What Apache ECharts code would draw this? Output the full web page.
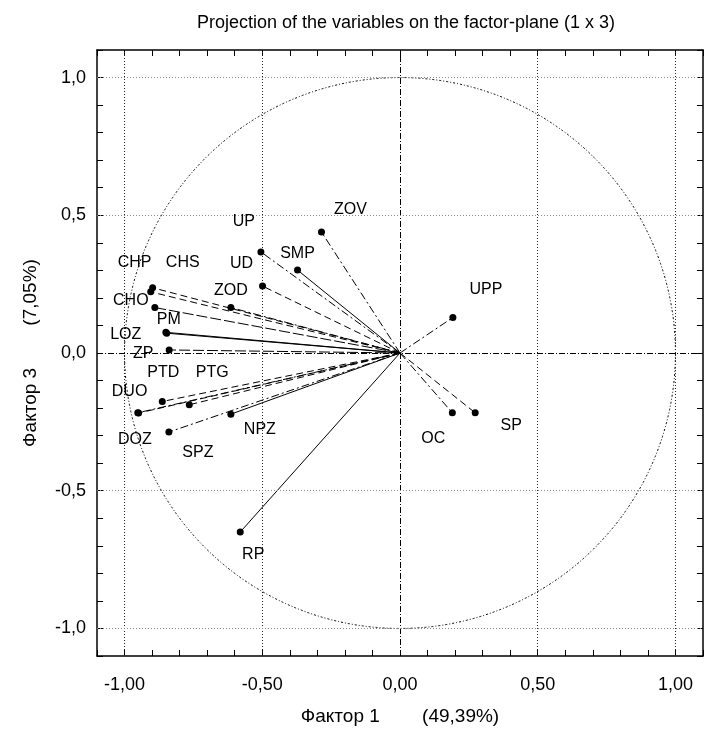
<!DOCTYPE html>
<html><head><meta charset="utf-8">
<script src="https://cdn.jsdelivr.net/npm/echarts@6/dist/echarts.min.js"></script>
<style>html,body{margin:0;padding:0;background:#fff}#c{width:706px;height:731px}</style>
</head><body><div id="c"></div>
<script>
// ---- DATA ----
const variables = ['ZOV','UP','SMP','UD','ZOD','CHP','CHS','CHO','PM','LOZ','ZP','PTD','PTG','DUO','DOZ','SPZ','NPZ','RP','UPP','OC','SP'];
const factor1 = [-0.285,-0.505,-0.372,-0.499,-0.614,-0.898,-0.905,-0.890,-0.850,-0.847,-0.838,-0.863,-0.765,-0.949,-0.952,-0.839,-0.614,-0.580,0.192,0.190,0.273];
const factor3 = [0.439,0.367,0.301,0.243,0.165,0.237,0.222,0.165,0.075,0.072,0.011,-0.176,-0.188,-0.218,-0.217,-0.287,-0.222,-0.650,0.129,-0.217,-0.217];
const xTicks = [-1, -0.5, 0, 0.5, 1];
const xTickLabels = ['-1,00','-0,50','0,00','0,50','1,00'];
const yTicks = [-1, -0.5, 0, 0.5, 1];
const yTickLabels = ['-1,0','-0,5','0,0','0,5','1,0'];

// ---- STYLE (label placement and line dash per variable) ----
const labelOffsets = {
  ZOV:[29,-22], UP:[-17,-30], SMP:[0,-16], UD:[-21,-22], ZOD:[0,-17],
  CHP:[-18,-25], CHS:[32,-29], CHO:[-24,-7], PM:[3,-13], LOZ:[-41,1], ZP:[-26,4],
  PTD:[1,-29], PTG:[23,-32], DUO:[-9,-21], DOZ:[-3,27], SPZ:[29,21], NPZ:[29,15],
  RP:[13,23], UPP:[33,-28], OC:[-19,26], SP:[36,13]
};
const DASH=[7,4], DASHDOT=[8,3,2,3], SOLID='solid', LONG=[11,3];
const rayStyle = {
  ZOV:DASHDOT, UP:DASHDOT, SMP:SOLID, UD:DASH, ZOD:DASHDOT,
  CHP:DASH, CHS:DASH, CHO:LONG, PM:SOLID, LOZ:SOLID, ZP:LONG,
  PTD:DASH, PTG:DASH, DUO:DASH, DOZ:DASHDOT, SPZ:DASHDOT, NPZ:SOLID,
  RP:SOLID, UPP:DASHDOT, OC:DASHDOT, SP:DASH
};

function fmt(ticks, labels){
  return function(v){
    for (let i=0;i<ticks.length;i++) if (Math.abs(v-ticks[i])<1e-6) return labels[i];
    return '';
  };
}
const FONT = 'Liberation Sans, Arial, sans-serif';
const chart = echarts.init(document.getElementById('c'));

const rays = variables.map((n,i)=>({
  type:'line', silent:true, symbol:'none', animation:false, z:3,
  data:[[0,0],[factor1[i],factor3[i]]],
  lineStyle:{color:'#000', width:1, type:rayStyle[n], opacity:1}
}));

rays[0].markLine = {
  silent:true, symbol:'none', animation:false, label:{show:false},
  data: xTicks.map(v=>({xAxis:v, lineStyle:{color: v===0?'#000':'#222', width:1, type: v===0?[6,2,1,2]:[1,2]}}))
    .concat(yTicks.map(v=>({yAxis:v, lineStyle:{color: v===0?'#000':'#888', width:1, type: v===0?[6,2,1,2]:[1,2]}})))
};

const axisCommon = {
  type:'value', min:-1.1, max:1.1, interval:0.1,
  axisLine:{show:true, onZero:false, lineStyle:{color:'#000', width:1.5}},
  axisTick:{show:true, inside:true, length:6, lineStyle:{color:'#000', width:1}},
  splitLine:{show:false}
};

const option = {
  animation:false,
  backgroundColor:'#fff',
  title:{text:'Projection of the variables on the factor-plane (1 x 3)', left:401, textAlign:'center', top:9,
    textStyle:{fontSize:18, fontWeight:'normal', color:'#000', fontFamily:FONT}},
  grid:{left:97, right:1, top:50, bottom:71, containLabel:false},
  xAxis:[
    Object.assign({}, axisCommon, {position:'bottom',
      axisLabel:{formatter:fmt(xTicks,xTickLabels), fontSize:18, color:'#000', margin:20, fontFamily:FONT},
      name:'Фактор 1        (49,39%)', nameLocation:'middle', nameGap:51,
      nameTextStyle:{fontSize:19, color:'#000', fontFamily:FONT}}),
    Object.assign({}, axisCommon, {position:'top', axisLabel:{show:false}})
  ],
  yAxis:[
    Object.assign({}, axisCommon, {position:'left',
      axisLabel:{formatter:fmt(yTicks,yTickLabels), fontSize:18, color:'#000', margin:11, fontFamily:FONT},
      name:'Фактор 3        (7,05%)', nameLocation:'middle', nameGap:57,
      nameTextStyle:{fontSize:19, color:'#000', fontFamily:FONT}}),
    Object.assign({}, axisCommon, {position:'right', axisLabel:{show:false}})
  ],
  series: rays.concat([{
    type:'scatter', symbol:'circle', symbolSize:7, z:5, animation:false,
    itemStyle:{color:'#000', opacity:1},
    data: variables.map((n,i)=>({name:n, value:[factor1[i],factor3[i]],
      label:{offset:labelOffsets[n]}})),
    label:{show:true, position:'inside', formatter:'{b}', color:'#000', fontSize:16,
      fontFamily:FONT, align:'center', verticalAlign:'middle'}
  }])
};
chart.setOption(option);
const c0 = chart.convertToPixel({gridIndex:0}, [0,0]);
const c1 = chart.convertToPixel({gridIndex:0}, [1,0]);
chart.setOption({graphic:[{type:'circle', silent:true, z:1,
  shape:{cx:c0[0], cy:c0[1], r:c1[0]-c0[0]},
  style:{fill:null, stroke:'#000', lineWidth:1, lineDash:[2,2,1,2]}}]});
</script></body></html>
